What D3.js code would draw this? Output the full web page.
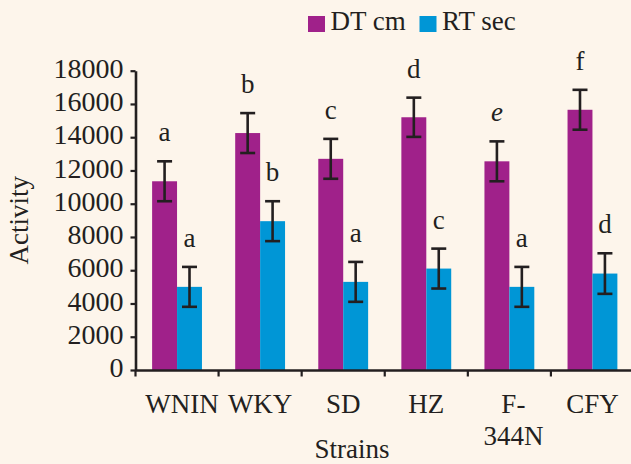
<!DOCTYPE html>
<html>
<head>
<meta charset="utf-8">
<script src="https://cdn.jsdelivr.net/npm/d3@7"></script>
<style>
  html, body { margin: 0; padding: 0; background: #fdf5eb; }
  svg { display: block; font-family: "Liberation Serif", "Times New Roman", serif; }
</style>
</head>
<body>
<div id="chart"></div>
<script>
const strains = ["WNIN", "WKY", "SD", "HZ", "F-344N", "CFY"];
const series = ["DT cm", "RT sec"];
const dtValues = [11350, 14250, 12700, 15200, 12550, 15650];
const rtValues = [5000, 8950, 5300, 6100, 5000, 5800];
const dtErrors = [1200, 1200, 1200, 1180, 1200, 1200];
const rtErrors = [1200, 1200, 1200, 1200, 1200, 1220];
const dtLetters = ["a", "b", "c", "d", "e", "f"];
const rtLetters = ["a", "b", "a", "c", "a", "d"];
const yTicks = [0, 2000, 4000, 6000, 8000, 10000, 12000, 14000, 16000, 18000];

const width = 631, height = 464;
const ink = "#231f20";
const serif = "Liberation Serif, Times New Roman, serif";
const colors = { "DT cm": "#a0218a", "RT sec": "#0096d6" };

const svg = d3.select("#chart").append("svg")
    .attr("width", width)
    .attr("height", height);

const x0 = d3.scaleBand()
    .domain(strains)
    .range([135.5, 634])
    .padding(0);

const x1 = d3.scaleBand()
    .domain(series)
    .range([x0.bandwidth() * 0.2, x0.bandwidth() * 0.8]);

const y = d3.scaleLinear()
    .domain([0, 18000])
    .range([370, 70.7]);

const rows = [];
strains.forEach((s, i) => {
    rows.push({ strain: s, key: "DT cm", value: dtValues[i], err: dtErrors[i], letter: dtLetters[i] });
    rows.push({ strain: s, key: "RT sec", value: rtValues[i], err: rtErrors[i], letter: rtLetters[i] });
});

const cx = d => x0(d.strain) + x1(d.key) + x1.bandwidth() / 2;

// bars
svg.selectAll(".bar")
    .data(rows)
    .enter()
    .append("rect")
    .attr("class", "bar")
    .attr("x", d => x0(d.strain) + x1(d.key))
    .attr("y", d => y(d.value))
    .attr("width", x1.bandwidth())
    .attr("height", d => y(0) - y(d.value))
    .attr("fill", d => colors[d.key]);

// error bars
const cap = 7.5;
const eb = svg.selectAll(".err")
    .data(rows)
    .enter()
    .append("g")
    .attr("class", "err")
    .attr("stroke", ink)
    .attr("stroke-width", 2.6);

eb.append("line")
    .attr("x1", cx)
    .attr("x2", cx)
    .attr("y1", d => y(d.value + d.err))
    .attr("y2", d => y(d.value - d.err));

eb.append("line")
    .attr("x1", d => cx(d) - cap)
    .attr("x2", d => cx(d) + cap)
    .attr("y1", d => y(d.value + d.err))
    .attr("y2", d => y(d.value + d.err));

eb.append("line")
    .attr("x1", d => cx(d) - cap)
    .attr("x2", d => cx(d) + cap)
    .attr("y1", d => y(d.value - d.err))
    .attr("y2", d => y(d.value - d.err));

// significance letters
svg.selectAll(".letter")
    .data(rows)
    .enter()
    .append("text")
    .attr("class", "letter")
    .attr("x", cx)
    .attr("y", d => y(d.value + d.err) - 20)
    .attr("text-anchor", "middle")
    .style("font-size", "27px")
    .style("font-style", d => d.letter === "e" ? "italic" : "normal")
    .attr("fill", ink)
    .text(d => d.letter);

// y axis
const yAxis = svg.append("g")
    .attr("transform", `translate(${x0.range()[0]},0)`)
    .call(d3.axisLeft(y).tickValues(yTicks).tickFormat(d3.format("d"))
        .tickSize(5).tickSizeOuter(0).tickPadding(7))
    .attr("font-family", serif)
    .attr("font-size", 28);

yAxis.select(".domain").attr("stroke", ink).attr("stroke-width", 2.6);
yAxis.selectAll(".tick line").attr("stroke", ink).attr("stroke-width", 2.2);
yAxis.selectAll(".tick text")
    .attr("dy", "0.24em")
    .attr("fill", ink);

// x axis
const xAxis = svg.append("g")
    .attr("transform", `translate(0,${y(0)})`)
    .call(d3.axisBottom(x0).tickSize(0).tickSizeOuter(0).tickFormat(""))
    .attr("font-family", serif)
    .attr("font-size", 27);

xAxis.select(".domain").attr("stroke", ink).attr("stroke-width", 2.6);

xAxis.selectAll(".bound")
    .data(strains)
    .enter()
    .append("line")
    .attr("class", "bound")
    .attr("x1", d => x0(d))
    .attr("x2", d => x0(d))
    .attr("y1", 0)
    .attr("y2", 6.5)
    .attr("stroke", ink)
    .attr("stroke-width", 2.2);

const catLabels = xAxis.selectAll(".cat")
    .data(strains)
    .enter()
    .append("text")
    .attr("class", "cat")
    .attr("text-anchor", "middle")
    .attr("fill", ink);

catLabels.each(function (d) {
    const parts = d === "F-344N" ? ["F-", "344N"] : [d];
    const t = d3.select(this);
    parts.forEach((p, i) => {
        t.append("tspan")
            .attr("x", x0(d) + x0.bandwidth() / 2 + (parts.length > 1 ? 4 : 0) + (d === "WNIN" ? 5 : 0))
            .attr("y", 43 + i * 32)
            .text(p);
    });
});

// axis titles
svg.append("text")
    .attr("x", 352)
    .attr("y", 458)
    .attr("text-anchor", "middle")
    .attr("fill", ink)
    .style("font-size", "27px")
    .text("Strains");

svg.append("text")
    .attr("transform", `translate(28,${(y(0) + y(18000)) / 2}) rotate(-90)`)
    .attr("text-anchor", "middle")
    .attr("fill", ink)
    .style("font-size", "27px")
    .text("Activity");

// legend
const legendX = [308, 419.5];
const legend = svg.selectAll(".legend")
    .data(series)
    .enter()
    .append("g")
    .attr("class", "legend")
    .attr("transform", (d, i) => `translate(${legendX[i]},0)`);

legend.append("rect")
    .attr("x", 0)
    .attr("y", 16)
    .attr("width", 17)
    .attr("height", 16)
    .attr("fill", d => colors[d]);

legend.append("text")
    .attr("x", 22.5)
    .attr("y", 30)
    .attr("fill", ink)
    .style("font-size", "27px")
    .text(d => d);
</script>
</body>
</html>
